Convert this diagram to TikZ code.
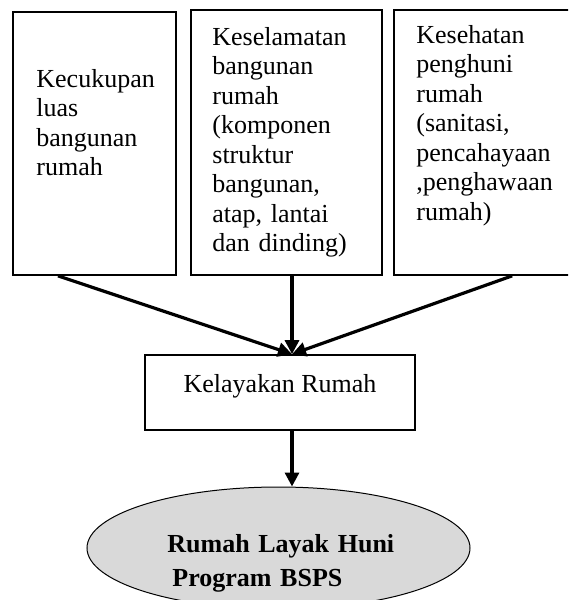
\documentclass[tikz,border=0pt]{standalone}
\usepackage{fontspec}
\setmainfont{Liberation Serif}
\usetikzlibrary{positioning, shapes.geometric, arrows.meta}

\definecolor{ovalgray}{RGB}{217,217,217}
\tikzset{
	kotak/.style={draw, line width=0.85pt, inner sep=0pt},
	isi/.style={anchor=base west, inner sep=0pt, text width=#1, align=left, font=\fontsize{13}{14.75}\selectfont},
	panah/.style={line width=1.6pt, -{Triangle[length=7pt,width=7pt]}}
}

\begin{document}
\begin{tikzpicture}[x=0.5pt, y=-0.5pt]
					\useasboundingbox (0,0) rectangle (568,600);
					\clip (0,0) rectangle (568,600);

					\node[kotak, minimum width=81.5pt, minimum height=131.5pt] (luas) at (94.5,143.5) {};
					\node[isi=70pt] (tluas) at (36,87) {Kecukupan\\luas\\bangunan\\rumah};

					\node[kotak, minimum width=95.5pt, minimum height=132.5pt] (selamat) at (286.5,142.5) {};
					\node[isi=85pt] (tselamat) at (212,45) {Keselamatan\\bangunan\\rumah\\(komponen\\struktur\\bangunan,\\atap, lantai\\dan dinding)};

					\node[kotak, minimum width=98pt, minimum height=132.5pt] (sehat) at (492,142.5) {};
					\node[isi=80pt] (tsehat) at (416,43) {Kesehatan\\penghuni\\rumah\\(sanitasi,\\pencahayaan\\,penghawaan\\rumah)};

					\node[kotak, minimum width=135pt, minimum height=37.5pt] (kelayakan) at (280,392.5) {};
					\node[anchor=base, inner sep=0pt, font=\fontsize{13}{14.75}\selectfont] (tkelayakan) at (280,392) {Kelayakan Rumah};

					\node[ellipse, draw, fill=ovalgray, line width=0.5pt, minimum width=191.5pt, minimum height=61pt, inner sep=0pt] (layak) at (278.5,548) {};
					\node[isi=120pt, font=\fontsize{13}{17}\selectfont\bfseries] (tlayak) at (167,552) {Rumah Layak Huni\\\hspace*{2.5pt}Program BSPS};

					\draw[panah] ([xshift=-18.25pt]luas.south) -- ([xshift=6pt]kelayakan.north);
					\draw[panah] ([xshift=2.75pt]selamat.south) -- ([xshift=6pt]kelayakan.north);
					\draw[panah] ([xshift=59.5pt]sehat.south west) -- ([xshift=6pt]kelayakan.north);
					\draw[panah] ([xshift=6pt]kelayakan.south) -- ([xshift=6.75pt]layak.north);
				\end{tikzpicture}
\end{document}
